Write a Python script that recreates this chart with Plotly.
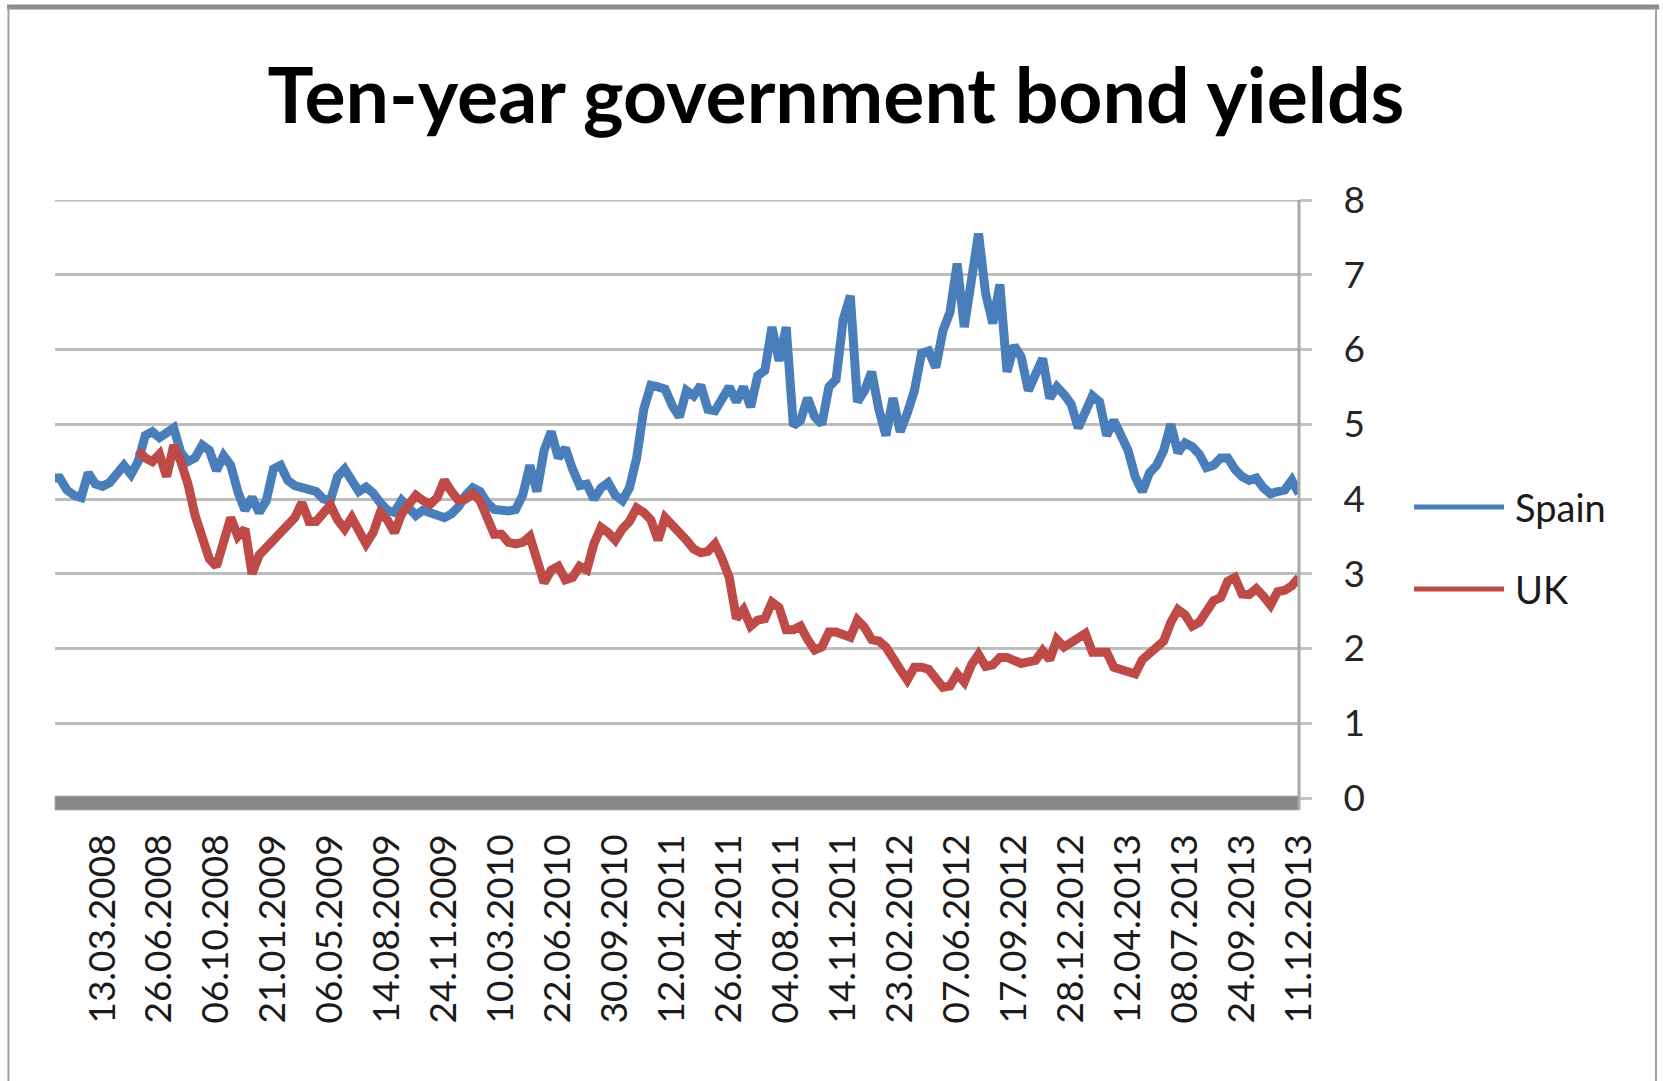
import plotly.graph_objects as go

# ---- data (sample index along category axis; one tick label every 8 samples) ----
tick_labels = ["13.03.2008", "26.06.2008", "06.10.2008", "21.01.2009", "06.05.2009",
               "14.08.2009", "24.11.2009", "10.03.2010", "22.06.2010", "30.09.2010",
               "12.01.2011", "26.04.2011", "04.08.2011", "14.11.2011", "23.02.2012",
               "07.06.2012", "17.09.2012", "28.12.2012", "12.04.2013", "08.07.2013",
               "24.09.2013", "11.12.2013"]

spain = [4.28, 4.28, 4.12, 4.05, 4.02, 4.35, 4.2, 4.17, 4.22, 4.32,
         4.45, 4.33, 4.5, 4.85, 4.9, 4.82, 4.88, 4.95, 4.62, 4.5,
         4.55, 4.72, 4.65, 4.38, 4.58, 4.45, 4.1, 3.85, 4.02, 3.82,
         3.98, 4.4, 4.45, 4.25, 4.18, 4.15, 4.12, 4.1, 4.0, 3.98,
         4.3, 4.4, 4.25, 4.1, 4.16, 4.08, 3.95, 3.85, 3.82, 3.98,
         3.88, 3.78, 3.85, 3.82, 3.8, 3.75, 3.8, 3.9, 4.05, 4.15,
         4.1, 3.95, 3.86, 3.84, 3.84, 3.86, 4.05, 4.45, 4.1, 4.65,
         4.9, 4.55, 4.68, 4.4, 4.18, 4.2, 4.0, 4.15, 4.22, 4.05,
         3.98, 4.15, 4.55, 5.2, 5.52, 5.5, 5.47, 5.25, 5.1, 5.45,
         5.38, 5.52, 5.2, 5.18, 5.35, 5.5, 5.3, 5.5, 5.23, 5.65,
         5.72, 6.3, 5.85, 6.3, 4.98, 5.05, 5.35, 5.1, 5.0, 5.5,
         5.6, 6.4, 6.72, 5.3, 5.45, 5.7, 5.2, 4.85, 5.35, 4.9,
         5.15, 5.45, 5.95, 5.98, 5.76, 6.25, 6.5, 7.15, 6.3, 7.0,
         7.55, 6.75, 6.35, 6.87, 5.7, 6.05, 5.9, 5.45, 5.7, 5.88,
         5.35, 5.5, 5.4, 5.27, 4.95, 5.2, 5.38, 5.3, 4.85, 5.05,
         4.85, 4.65, 4.3, 4.1, 4.35, 4.45, 4.65, 5.0, 4.62, 4.75,
         4.7, 4.6, 4.42, 4.45, 4.55, 4.55, 4.4, 4.3, 4.25, 4.28,
         4.15, 4.07, 4.1, 4.12, 4.25, 4.07]

uk_start = 12
uk = [4.65, 4.55, 4.5, 4.6, 4.3, 4.72, 4.5, 4.2, 3.78, 3.5,
      3.2, 3.1, 3.4, 3.75, 3.5, 3.6, 3.0, 3.25, 3.35, 3.45,
      3.55, 3.65, 3.75, 3.95, 3.7, 3.7, 3.82, 3.92, 3.72, 3.6,
      3.75, 3.55, 3.4, 3.55, 3.82, 3.72, 3.55, 3.8, 3.95, 4.05,
      3.98, 3.93, 4.02, 4.25, 4.1, 3.98, 4.0, 4.07, 3.98, 3.75,
      3.53, 3.53, 3.42, 3.4, 3.42, 3.5, 3.22, 2.88, 3.05, 3.1,
      2.92, 2.95, 3.1, 3.05, 3.4, 3.62, 3.55, 3.45, 3.6, 3.7,
      3.88, 3.82, 3.72, 3.45, 3.75, 3.65, 3.58, 3.45, 3.33, 3.28,
      3.3, 3.4, 3.2, 2.95, 2.4, 2.52, 2.3, 2.38, 2.4, 2.62,
      2.55, 2.25, 2.25, 2.3, 2.12, 1.98, 2.02, 2.22, 2.22, 2.18,
      2.15, 2.38, 2.28, 2.12, 2.1, 2.02, 1.85, 1.72, 1.58, 1.75,
      1.75, 1.72, 1.6, 1.48, 1.5, 1.66, 1.55, 1.78, 1.92, 1.76,
      1.78, 1.88, 1.88, 1.84, 1.8, 1.82, 1.84, 1.97, 1.85, 2.12,
      2.02, 2.08, 2.15, 2.2, 1.95, 1.95, 1.95, 1.75, 1.72, 1.7,
      1.66, 1.85, 1.93, 2.0, 2.1, 2.35, 2.52, 2.45, 2.3, 2.35,
      2.5, 2.64, 2.68, 2.9, 2.95, 2.73, 2.72, 2.8, 2.7, 2.58,
      2.76, 2.78, 2.84, 2.95]

y_ticks = [0, 1, 2, 3, 4, 5, 6, 7, 8]

x_spain = list(range(len(spain)))
x_uk = list(range(uk_start, uk_start + len(uk)))
tick_pos = [7 + 8 * i for i in range(len(tick_labels))]

BLUE = "#4A7EBB"
RED = "#BE4B48"
FONT = "Lato"
GRID = "#bdbdbd"

fig = go.Figure()
fig.add_trace(go.Scatter(x=x_spain, y=spain, mode="lines", name="Spain",
                         line=dict(color=BLUE, width=9), showlegend=False))
fig.add_trace(go.Scatter(x=x_uk, y=uk, mode="lines", name="UK",
                         line=dict(color=RED, width=9), showlegend=False))

# plot area: x 55..1299, y 200..798 (pixels)
L, R, T, B = 55, 1299, 200, 798
W, H = 1663, 1081
def px(X):
    return (X - L) / (R - L)
def py(Y):
    return (B - Y) / (B - T)

shapes = [
    # top gridline (at the edge of the value range)
    dict(type="line", xref="paper", yref="y", x0=0, x1=1, y0=y_ticks[-1], y1=y_ticks[-1],
         line=dict(color=GRID, width=3), layer="below"),
    # thick category-axis bar
    dict(type="rect", xref="paper", yref="paper", x0=0, x1=1, y0=py(810), y1=py(796),
         fillcolor="#878787", line=dict(color="#b0b0b0", width=1), layer="above"),
    # value-axis line (extends to bottom of bar)
    dict(type="line", xref="paper", yref="paper", x0=1, x1=1, y0=py(810), y1=1,
         line=dict(color="#a8a8a8", width=3)),
    # chart border
    dict(type="line", xref="paper", yref="paper", x0=px(7), x1=px(1659), y0=py(7), y1=py(7),
         line=dict(color="#8c8c8c", width=5)),
    dict(type="line", xref="paper", yref="paper", x0=px(8.5), x1=px(8.5), y0=py(7), y1=py(1100),
         line=dict(color="#a0a0a0", width=2)),
    dict(type="line", xref="paper", yref="paper", x0=px(1656), x1=px(1656), y0=py(7), y1=py(1100),
         line=dict(color="#a0a0a0", width=2)),
    # legend swatches
    dict(type="line", xref="paper", yref="paper", x0=px(1414), x1=px(1504), y0=py(507), y1=py(507),
         line=dict(color=BLUE, width=5)),
    dict(type="line", xref="paper", yref="paper", x0=px(1414), x1=px(1504), y0=py(589), y1=py(589),
         line=dict(color=RED, width=5)),
]

annotations = [
    dict(text="Spain", xref="paper", yref="paper", x=px(1513), y=py(507), xanchor="left",
         yanchor="middle", showarrow=False, font=dict(family=FONT, size=38, color="#1a1a1a")),
    dict(text="UK", xref="paper", yref="paper", x=px(1513), y=py(589), xanchor="left",
         yanchor="middle", showarrow=False, font=dict(family=FONT, size=38, color="#1a1a1a")),
]

fig.update_layout(
    width=W, height=H,
    margin=dict(l=L, r=W - R, t=T, b=H - B, pad=0),
    paper_bgcolor="white", plot_bgcolor="white",
    title=dict(text="<b>Ten-year government bond yields</b>", x=836 / W, xanchor="center",
               y=1 - 96 / H, yanchor="middle", xref="container", yref="container",
               font=dict(family=FONT, size=77, color="#000000")),
    shapes=shapes, annotations=annotations, showlegend=False,
)
fig.update_xaxes(range=[0.33, 175], tickmode="array", tickvals=tick_pos, ticktext=tick_labels,
                 tickangle=-90, showgrid=False, zeroline=False, showline=False, ticks="",
                 tickfont=dict(family=FONT, size=37, color="#1a1a1a"), ticklabelstandoff=28)
fig.update_yaxes(range=[0, 8], tickvals=y_ticks, side="right",
                 showgrid=True, gridcolor=GRID,
                 gridwidth=3, zeroline=False, showline=False, ticks="outside", ticklen=12,
                 tickwidth=3, tickcolor="#c4c4c4",
                 tickfont=dict(family=FONT, size=37, color="#262626"), ticklabelstandoff=24)

fig.write_html("out.html", config={"displayModeBar": False},
               post_script="document.body.style.margin='0';")
